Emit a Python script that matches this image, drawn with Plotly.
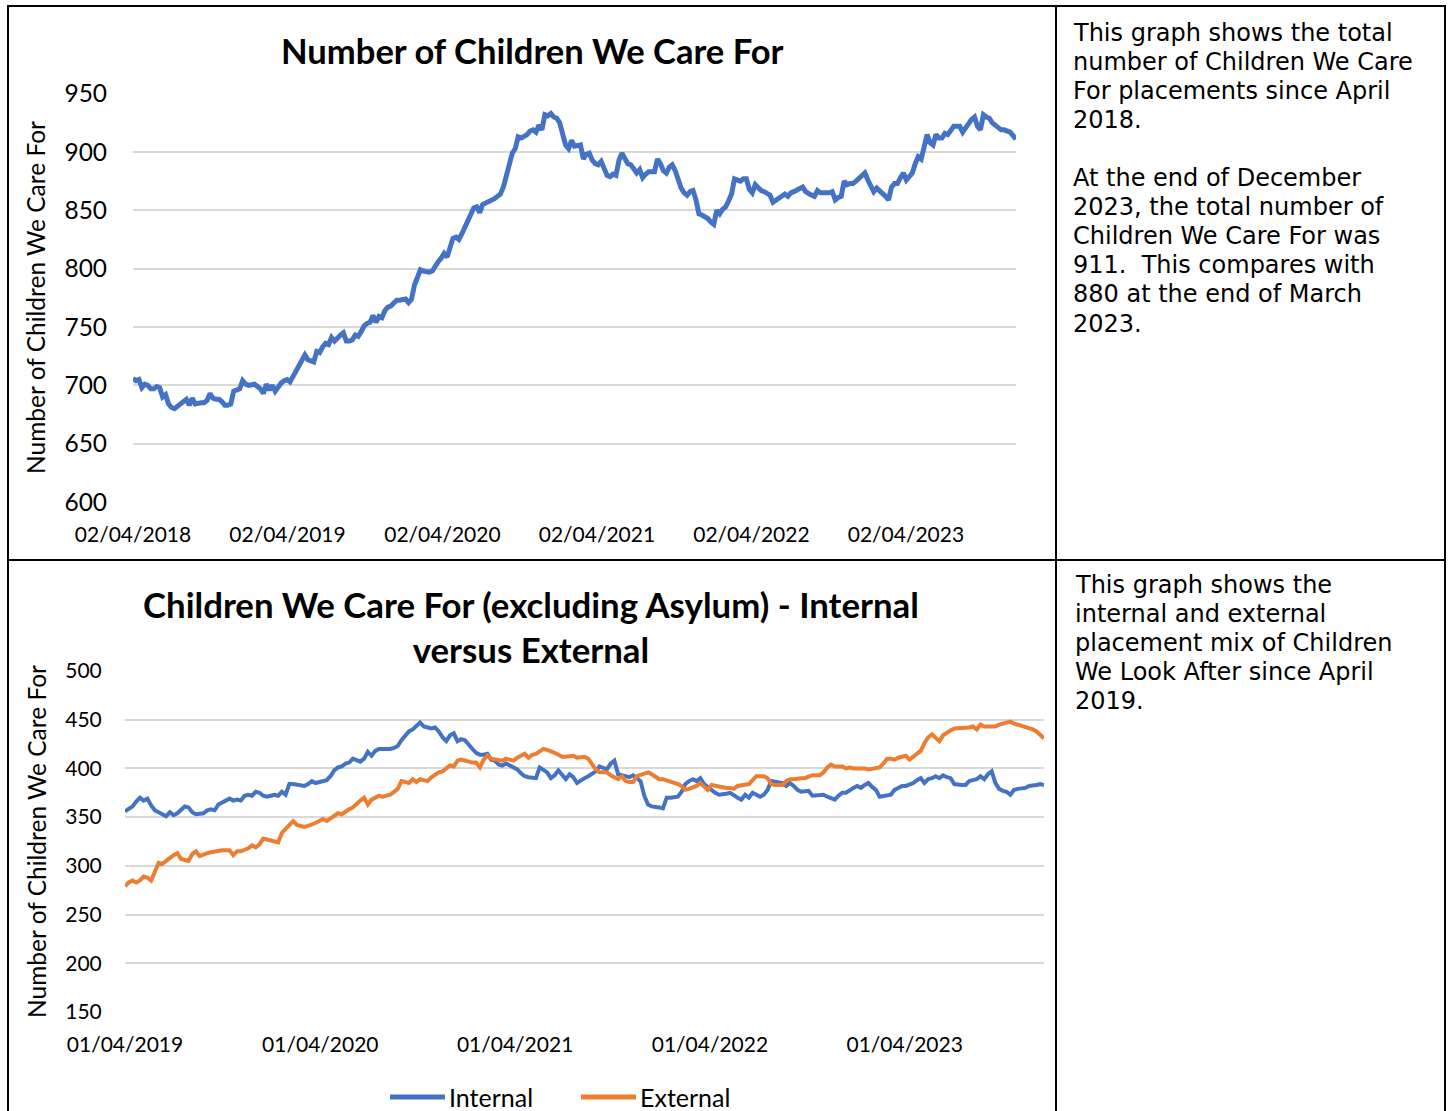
import pandas as pd
import plotly.graph_objects as go

# ---------------------------------------------------------------------------
# Data: weekly snapshots
# ---------------------------------------------------------------------------
total_start = "2018-04-02"
total_children = [
    706, 704, 705, 698, 701, 700, 697, 697, 699, 698,
    690, 692, 684, 681, 680, 682, 684, 686, 688, 683,
    689, 684, 685, 685, 685, 687, 693, 689, 688, 688,
    686, 683, 683, 684, 695, 696, 697, 704, 701, 700,
    701, 701, 699, 697, 693, 701, 696, 700, 695, 699,
    702, 704, 705, 703, 708, 713, 718, 722, 726, 722,
    721, 720, 729, 728, 733, 736, 735, 741, 738, 741,
    743, 745, 738, 738, 739, 743, 742, 746, 751, 753,
    754, 760, 754, 759, 758, 764, 767, 768, 771, 773,
    773, 773, 774, 771, 774, 786, 794, 799, 798, 797,
    797, 798, 803, 806, 809, 813, 810, 818, 826, 827,
    825, 830, 836, 842, 847, 852, 853, 848, 855, 856,
    857, 858, 860, 862, 864, 870, 880, 892, 899, 903,
    913, 912, 913, 915, 918, 919, 917, 923, 919, 932,
    931, 933, 930, 929, 925, 915, 906, 903, 910, 905,
    906, 906, 894, 898, 899, 893, 890, 889, 892, 886,
    880, 879, 881, 880, 893, 899, 894, 890, 889, 885,
    882, 885, 878, 881, 883, 883, 883, 894, 890, 884,
    882, 887, 889, 884, 876, 869, 865, 863, 866, 867,
    859, 847, 846, 845, 843, 840, 838, 850, 847, 851,
    853, 858, 864, 877, 876, 875, 877, 877, 868, 865,
    872, 869, 867, 866, 864, 863, 857, 859, 860, 863,
    864, 862, 865, 866, 867, 869, 870, 866, 864, 863,
    862, 867, 865, 865, 864, 865, 866, 859, 861, 862,
    875, 872, 873, 873, 875, 877, 880, 882, 876, 870,
    866, 869, 867, 865, 862, 859, 870, 873, 873, 878,
    882, 876, 879, 882, 890, 896, 894, 905, 915, 908,
    906, 915, 912, 912, 916, 915, 918, 922, 922, 922,
    917, 921, 926, 928, 930, 922, 919, 932, 930, 929,
    925, 923, 920, 919, 919, 918, 917, 914, 911,
]

mix_start = "2019-04-01"
internal = [
    356, 358, 361, 366, 370, 367, 369, 362, 357, 355,
    353, 351, 355, 352, 354, 358, 361, 360, 355, 353,
    353, 354, 357, 358, 357, 363, 365, 367, 369, 367,
    368, 367, 372, 373, 372, 376, 375, 372, 371, 372,
    373, 372, 376, 373, 384, 384, 383, 383, 382, 384,
    387, 385, 386, 387, 388, 392, 398, 401, 402, 405,
    406, 410, 408, 407, 410, 417, 413, 418, 420, 420,
    419, 420, 421, 423, 429, 434, 438, 440, 444, 447,
    443, 442, 441, 442, 438, 432, 428, 434, 436, 428,
    430, 429, 424, 420, 416, 414, 414, 415, 409, 408,
    404, 403, 405, 403, 401, 399, 395, 392, 391, 390,
    390, 401, 398, 396, 390, 393, 398, 393, 389, 394,
    391, 385, 388, 390, 392, 395, 397, 402, 400, 399,
    405, 408, 394, 393, 392, 391, 393, 390, 387, 372,
    363, 361, 361, 360, 359, 370, 370, 371, 371, 376,
    384, 387, 389, 387, 390, 384, 381, 377, 375, 373,
    373, 374, 375, 372, 370, 368, 373, 370, 375, 373,
    371, 373, 378, 387, 386, 386, 385, 382, 385, 382,
    378, 376, 377, 377, 372, 372, 372, 373, 371, 369,
    368, 372, 375, 375, 378, 380, 382, 380, 383, 385,
    381, 378, 371, 372, 373, 373, 378, 380, 382, 382,
    383, 385, 388, 390, 385, 389, 390, 392, 390, 393,
    391, 390, 384, 383, 383, 383, 387, 388, 389, 392,
    389, 394, 397, 385, 379, 377, 376, 373, 378, 379,
    379, 380, 382, 382, 383, 384, 383,
]
external = [
    279, 283, 285, 283, 285, 289, 288, 285, 294, 303,
    302, 305, 309, 311, 313, 307, 306, 305, 312, 315,
    310, 312, 313, 314, 315, 316, 316, 316, 316, 311,
    315, 315, 316, 318, 321, 319, 322, 328, 327, 326,
    325, 324, 334, 338, 342, 346, 342, 341, 340, 341,
    342, 344, 346, 348, 346, 349, 351, 354, 353, 356,
    358, 360, 364, 367, 370, 363, 368, 370, 372, 371,
    372, 373, 376, 379, 387, 386, 385, 389, 386, 389,
    388, 387, 391, 394, 396, 397, 400, 403, 402, 408,
    409, 408, 406, 406, 406, 401, 409, 413, 410, 409,
    409, 408, 410, 409, 408, 411, 413, 415, 411, 414,
    415, 417, 420, 419, 418, 416, 414, 412, 412, 412,
    413, 411, 411, 412, 410, 405, 399, 396, 396, 396,
    393, 391, 389, 392, 387, 386, 386, 392, 393, 394,
    396, 394, 392, 389, 389, 388, 387, 386, 384, 382,
    378, 379, 380, 382, 385, 382, 378, 383, 382, 382,
    381, 380, 380, 379, 382, 383, 383, 384, 388, 392,
    392, 392, 390, 384, 383, 383, 383, 387, 389, 389,
    390, 390, 390, 392, 393, 393, 393, 396, 401, 404,
    402, 402, 402, 400, 401, 400, 400, 401, 400, 399,
    400, 401, 401, 405, 410, 410, 409, 411, 412, 413,
    409, 412, 415, 418, 426, 432, 435, 432, 428, 434,
    437, 439, 441, 441, 442, 442, 442, 443, 440, 445,
    443, 443, 443, 443, 445, 446, 447, 448, 446, 445,
    443, 442, 441, 440, 438, 435, 431,
]

total_ticks = ["2018-04-02", "2019-04-02", "2020-04-02",
               "2021-04-02", "2022-04-02", "2023-04-02"]
mix_ticks = ["2019-04-01", "2020-04-01", "2021-04-01",
             "2022-04-01", "2023-04-01"]

series_names = ["Internal", "External"]

total_text = [
    "This graph shows the total",
    "number of Children We Care",
    "For placements since April",
    "2018.",
]
total_note = [
    "At the end of December",
    "2023, the total number of",
    "Children We Care For was",
    "911.\u00a0 This compares with",
    "880 at the end of March",
    "2023.",
]
mix_text = [
    "This graph shows the",
    "internal and external",
    "placement mix of Children",
    "We Look After since April",
    "2019.",
]

# ---------------------------------------------------------------------------
# Styling
# ---------------------------------------------------------------------------
W, H = 1453, 1111
BLUE = "#4472C4"
ORANGE = "#ED7D31"
GRID = "#D9D9D9"
CHART_FONT = "Lato"
NOTE_FONT = "DejaVu Sans"


def px(x):
    return x / W


def py(y):
    return 1 - y / H


total_dates = pd.date_range(total_start, periods=len(total_children), freq="7D")
mix_dates = pd.date_range(mix_start, periods=len(internal), freq="7D")

fig = go.Figure()

fig.add_trace(go.Scatter(
    x=total_dates, y=total_children, mode="lines",
    line=dict(color=BLUE, width=5), xaxis="x", yaxis="y",
    name="Number of Children We Care For",
))
fig.add_trace(go.Scatter(
    x=mix_dates, y=internal, mode="lines",
    line=dict(color=BLUE, width=4), xaxis="x2", yaxis="y2",
    name=series_names[0],
))
fig.add_trace(go.Scatter(
    x=mix_dates, y=external, mode="lines",
    line=dict(color=ORANGE, width=4), xaxis="x2", yaxis="y2",
    name=series_names[1],
))

date_axis = dict(
    type="date", tickformat="%d/%m/%Y", showgrid=False, showline=False,
    zeroline=False, ticks="outside", ticklen=14, automargin=False,
    tickcolor="rgba(0,0,0,0)",
    tickfont=dict(family=CHART_FONT, size=21, color="#000000"),
)
value_axis = dict(
    showgrid=True, gridcolor=GRID, gridwidth=1.5, showline=False,
    zeroline=False, dtick=50, ticks="outside", automargin=False,
    tickcolor="rgba(0,0,0,0)",
)

fig.update_layout(
    width=W, height=H, autosize=False,
    margin=dict(l=0, r=0, t=0, b=0, pad=0, autoexpand=False),
    paper_bgcolor="white", plot_bgcolor="white",
    showlegend=False,
    xaxis=dict(date_axis, domain=[px(133), px(1016)], anchor="y",
               range=[total_dates[0], total_dates[-1]], tickvals=total_ticks),
    yaxis=dict(value_axis, domain=[py(502), py(93.7)], anchor="x",
               range=[600, 950], tick0=600, ticklen=20,
               tickfont=dict(family=CHART_FONT, size=24.5, color="#000000")),
    xaxis2=dict(date_axis, domain=[px(125), px(1044)], anchor="y2",
                range=[mix_dates[0], mix_dates[-1]], tickvals=mix_ticks),
    yaxis2=dict(value_axis, domain=[py(1012), py(671)], anchor="x2",
                range=[150, 500], tick0=150, ticklen=18,
                tickfont=dict(family=CHART_FONT, size=21, color="#000000")),
)

annotations = []
shapes = []

# chart titles
annotations.append(dict(
    text="<b>Number of Children We Care For</b>", x=px(532), y=py(50),
    xref="paper", yref="paper", xanchor="center", yanchor="middle",
    showarrow=False, font=dict(family=CHART_FONT, size=34.6, color="#000000"),
))
annotations.append(dict(
    text="<b>Children We Care For (excluding Asylum) - Internal<br>versus External</b>",
    x=px(531), y=py(627), xref="paper", yref="paper",
    xanchor="center", yanchor="middle", showarrow=False,
    font=dict(family=CHART_FONT, size=34.8, color="#000000"),
))

# value axis titles
for yc in (298, 842):
    annotations.append(dict(
        text="Number of Children We Care For", textangle=-90,
        x=px(36), y=py(yc), xref="paper", yref="paper",
        xanchor="center", yanchor="middle", showarrow=False,
        font=dict(family=CHART_FONT, size=24.5, color="#000000"),
    ))

# legend for the placement-mix chart
for name, color, x0 in zip(series_names, (BLUE, ORANGE), (390, 581)):
    shapes.append(dict(
        type="line", xref="paper", yref="paper",
        x0=px(x0), x1=px(x0 + 55), y0=py(1097), y1=py(1097),
        line=dict(color=color, width=5),
    ))
    annotations.append(dict(
        text=name, x=px(x0 + 57), y=py(1097), xref="paper", yref="paper",
        xanchor="left", yanchor="middle", showarrow=False,
        font=dict(family=CHART_FONT, size=25, color="#000000"),
    ))

# commentary column
LINE_STEP = 29.1


def add_lines(lines, x_left, y_first):
    for i, line in enumerate(lines):
        annotations.append(dict(
            text=line, x=px(x_left), y=py(y_first + i * LINE_STEP),
            xref="paper", yref="paper", xanchor="left", yanchor="middle",
            showarrow=False,
            font=dict(family=NOTE_FONT, size=24, color="#000000"),
        ))


add_lines(total_text, 1071, 33)
add_lines(total_note, 1071, 178)
add_lines(mix_text, 1073, 585)

# table rules framing the two rows
rule = dict(color="#000000", width=2)
for x in (8, 1056, 1445):
    shapes.append(dict(type="line", xref="paper", yref="paper",
                       x0=px(x), x1=px(x), y0=py(6), y1=0, line=rule))
for y in (6, 560):
    shapes.append(dict(type="line", xref="paper", yref="paper",
                       x0=px(7), x1=px(1446), y0=py(y), y1=py(y), line=rule))

fig.update_layout(annotations=annotations, shapes=shapes)

fig.write_html("out.html")
